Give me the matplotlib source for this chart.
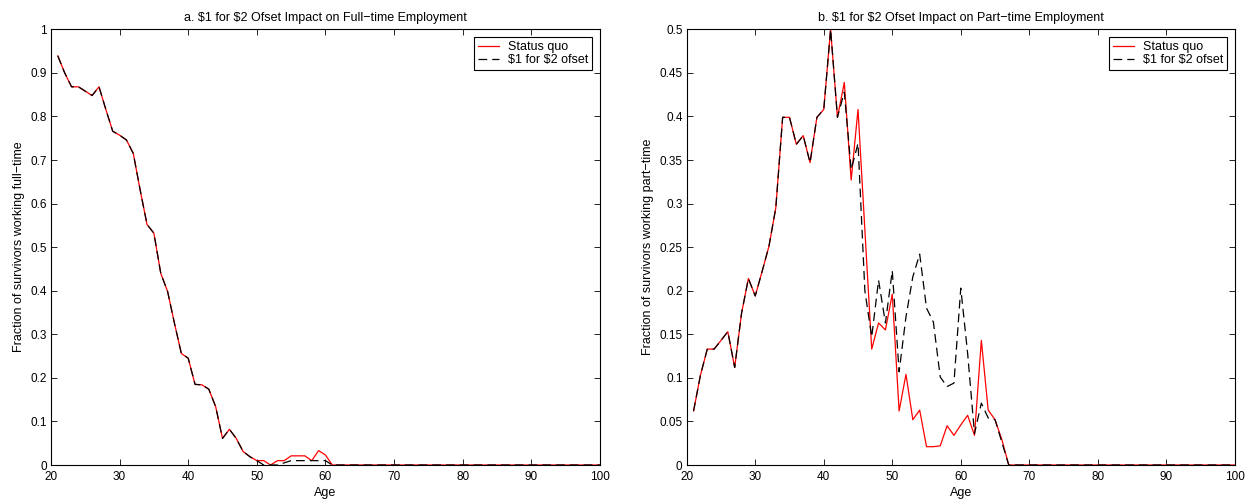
import numpy as np
import matplotlib
matplotlib.use("Agg")
import matplotlib.pyplot as plt

plt.rcParams["font.family"] = ["Liberation Sans", "DejaVu Sans"]
plt.rcParams["font.size"] = 9

# Ages 21..100, one point per year
ages = np.arange(21, 101)

# Full-time employment, ages 21..61 (zero afterwards)
ft_status_quo = [0.939, 0.900, 0.868, 0.868, 0.858, 0.848, 0.868, 0.816, 0.766, 0.757,
                 0.746, 0.715, 0.631, 0.552, 0.532, 0.440, 0.398, 0.325, 0.256, 0.245,
                 0.185, 0.184, 0.174, 0.134, 0.061, 0.082, 0.061, 0.031, 0.019, 0.010,
                 0.010, 0.000, 0.010, 0.010, 0.021, 0.021, 0.021, 0.010, 0.033, 0.023,
                 0.000]
ft_offset = [0.939, 0.900, 0.868, 0.868, 0.858, 0.848, 0.868, 0.816, 0.766, 0.757,
             0.746, 0.715, 0.631, 0.552, 0.532, 0.440, 0.398, 0.325, 0.256, 0.245,
             0.185, 0.184, 0.174, 0.134, 0.061, 0.082, 0.061, 0.031, 0.019, 0.010,
             0.000, 0.000, 0.000, 0.005, 0.010, 0.010, 0.010, 0.010, 0.010, 0.010,
             0.000]

# Part-time employment, ages 21..67 (zero afterwards)
pt_status_quo = [0.062, 0.103, 0.133, 0.133, 0.143, 0.153, 0.112, 0.174, 0.214, 0.194,
                 0.222, 0.251, 0.295, 0.399, 0.399, 0.368, 0.378, 0.347, 0.399, 0.408,
                 0.500, 0.399, 0.439, 0.327, 0.408, 0.270, 0.133, 0.163, 0.155, 0.196,
                 0.062, 0.104, 0.052, 0.063, 0.021, 0.021, 0.022, 0.045, 0.034, 0.046,
                 0.057, 0.034, 0.143, 0.063, 0.052, 0.029, 0.000]
pt_offset = [0.062, 0.103, 0.133, 0.133, 0.143, 0.153, 0.112, 0.174, 0.214, 0.194,
             0.222, 0.251, 0.295, 0.399, 0.399, 0.368, 0.378, 0.347, 0.399, 0.408,
             0.500, 0.399, 0.428, 0.339, 0.369, 0.200, 0.147, 0.212, 0.163, 0.223,
             0.107, 0.170, 0.216, 0.242, 0.180, 0.164, 0.101, 0.090, 0.094, 0.203,
             0.128, 0.036, 0.071, 0.054, 0.052, 0.026, 0.000]


def pad(vals):
    out = np.zeros(len(ages))
    out[:len(vals)] = vals
    return out


panels = [
    dict(pos=[0.0407, 0.07, 0.4385, 0.8714], sq=pad(ft_status_quo), off=pad(ft_offset),
         ymax=1.0, yticks=np.arange(0, 1.01, 0.1),
         yticklabels=["0", "0.1", "0.2", "0.3", "0.4", "0.5", "0.6", "0.7", "0.8", "0.9", "1"],
         title="a. \\$1 for \\$2 Ofset Impact on Full\u2212time Employment",
         ylabel="Fraction of survivors working full\u2212time"),
    dict(pos=[0.5485, 0.07, 0.4378, 0.8714], sq=pad(pt_status_quo), off=pad(pt_offset),
         ymax=0.5, yticks=np.arange(0, 0.501, 0.05),
         yticklabels=["0", "0.05", "0.1", "0.15", "0.2", "0.25", "0.3", "0.35", "0.4", "0.45", "0.5"],
         title="b. \\$1 for \\$2 Ofset Impact on Part\u2212time Employment",
         ylabel="Fraction of survivors working part\u2212time"),
]

fig = plt.figure(figsize=(12.52, 5.0), dpi=100)

for p in panels:
    ax = fig.add_axes(p["pos"])
    ax.plot(ages, p["sq"], color="red", lw=0.9, label="Status quo")
    ax.plot(ages, p["off"], color="black", lw=0.9, dashes=(7, 4), label="\\$1 for \\$2 ofset")
    ax.set_xlim(20, 100)
    ax.set_ylim(0, p["ymax"])
    ax.set_xticks(np.arange(20, 101, 10))
    ax.set_yticks(p["yticks"])
    ax.set_yticklabels(p["yticklabels"])
    ax.tick_params(direction="in", top=True, right=True, length=4, width=0.6,
                   pad=3, labelsize=8.5)
    ax.tick_params(axis="x", pad=4)
    for s in ax.spines.values():
        s.set_linewidth(0.8)
    ax.set_title(p["title"], fontsize=9, pad=6)
    ax.set_xlabel("Age", labelpad=3)
    ax.set_ylabel(p["ylabel"], labelpad=4)
    leg = ax.legend(loc="upper right", fancybox=False, edgecolor="black",
                    framealpha=1, handlelength=1.7, handletextpad=0.7,
                    borderpad=0.3, labelspacing=0.1, borderaxespad=0.65, fontsize=9)
    leg.get_frame().set_linewidth(0.8)

fig.savefig("out.png", dpi=100)
